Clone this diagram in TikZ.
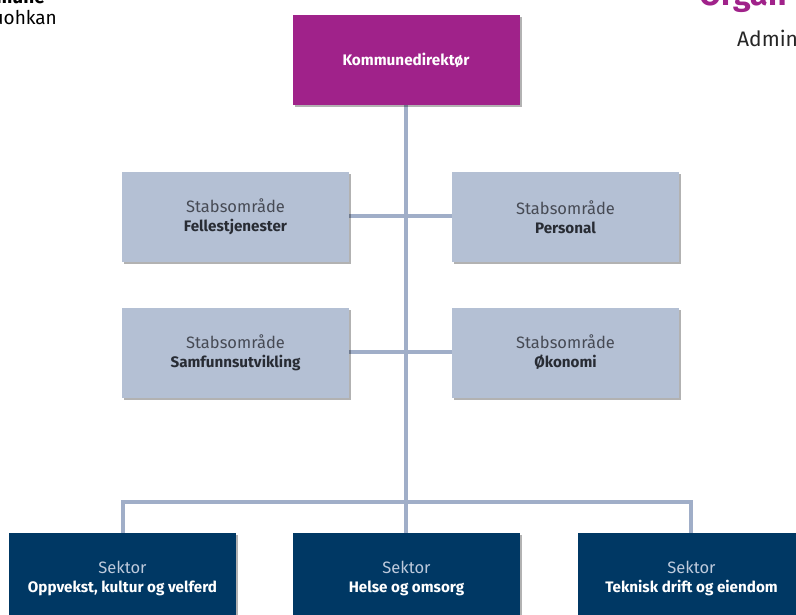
\documentclass[tikz,border=0pt]{standalone}
\usepackage{fontspec}
\setmainfont{Fira Sans}
\usetikzlibrary{shadows}
\definecolor{purp}{RGB}{160,34,138}
\definecolor{stab}{RGB}{180,192,212}
\definecolor{navy}{RGB}{0,56,100}
\definecolor{conn}{RGB}{160,174,200}
\definecolor{stabtxt}{RGB}{40,44,52}
\definecolor{stablight}{RGB}{70,74,84}
\definecolor{sektlight}{RGB}{190,202,220}
\tikzset{
  box/.style={minimum width=227pt, minimum height=90pt, inner sep=0pt, align=center,
    drop shadow={shadow xshift=2pt, shadow yshift=-2pt, opacity=0.3, fill=black}},
  kdbox/.style={box, fill=purp, text=white, font=\fontsize{15.3}{19}\selectfont\bfseries},
  stabbox/.style={box, fill=stab, text=stabtxt, font=\fontsize{15.2}{19}\selectfont},
  sektbox/.style={box, fill=navy, text=white, font=\fontsize{15.2}{19}\selectfont},
  conline/.style={draw=conn, line width=4.5pt}
}
\newcommand{\stabtext}[1]{{\color{stablight}\fontsize{16.5}{19}\selectfont Stabsområde}\\\textbf{#1}}
\newcommand{\sekttext}[1]{{\color{sektlight}\fontsize{16.5}{19}\selectfont Sektor}\\\textbf{#1}}
\begin{document}
\begin{tikzpicture}[x=1pt,y=-1pt]
\useasboundingbox (0,0) rectangle (796,615);
\clip (0,0) rectangle (796,615);
\fill[white] (0,0) rectangle (796,615);

% header texts (cut by the page edge)
\node[anchor=base east, inner sep=0pt, font=\fontsize{19}{22}\selectfont\bfseries, text=black] (hk) at (45,4) {mune};
\node[anchor=base east, inner sep=0pt, font=\fontsize{19}{22}\selectfont, text=black] (hs) at (57,25) {uohkan};
\node[anchor=base west, inner sep=0pt, font=\fontsize{32}{36}\selectfont\bfseries, text=purp] (ho) at (699,6) {Organ};
\node[anchor=base west, inner sep=0pt, font=\fontsize{21}{24}\selectfont, text=black!85] (ha) at (737,47) {Admin};

\coordinate (bus) at (406,502);

% connectors
\draw[conline] (406,104) -- (bus);
\draw[conline] (235,216) -- (565,216);
\draw[conline] (235,352) -- (565,352);
\draw[conline] (123,560) |- (bus) -| (691,560);
\draw[conline] (bus) -- (406,560);

% boxes
\node[kdbox] (kd) at (406,60) {Kommunedirektør};
\node[stabbox] (fel) at (235.5,217) {\stabtext{Fellestjenester}};
\node[stabbox] (per) at (565.5,217) {\stabtext{Personal}};
\node[stabbox] (sam) at (235.5,352.5) {\stabtext{Samfunnsutvikling}};
\node[stabbox] (oko) at (565.5,352.5) {\stabtext{Økonomi}};
\node[sektbox] (opp) at (122.5,578) {\sekttext{Oppvekst, kultur og velferd}};
\node[sektbox] (hel) at (406.5,578) {\sekttext{Helse og omsorg}};
\node[sektbox] (tek) at (691.5,578) {\sekttext{Teknisk drift og eiendom}};
\end{tikzpicture}
\end{document}
